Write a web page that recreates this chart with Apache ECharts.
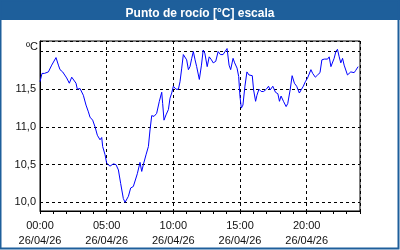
<!DOCTYPE html>
<html><head><meta charset="utf-8">
<script src="https://cdn.jsdelivr.net/npm/echarts@6/dist/echarts.min.js"></script>
<style>html,body{margin:0;padding:0;background:#fff}#c{width:400px;height:250px}</style>
</head><body><div id="c"></div>
<script>
const titleText = 'Punto de rocío [°C] escala';
const unitLabel = 'ºC';
const dateLabel = '26/04/26';
const hours = [0,0.15,0.33,0.63,0.88,1.2,1.38,1.5,1.7,2.0,2.2,2.38,2.5,2.7,2.8,3.0,3.13,3.25,3.45,3.63,3.75,3.95,4.13,4.3,4.5,4.63,4.7,4.88,5.0,5.25,5.5,5.7,5.88,6.05,6.25,6.38,6.5,6.63,6.8,7.0,7.13,7.3,7.5,7.63,7.75,7.95,8.13,8.25,8.38,8.55,8.75,8.95,9.13,9.2,9.3,9.45,9.63,9.75,9.88,10.0,10.2,10.38,10.5,10.63,10.75,10.88,11.0,11.13,11.25,11.38,11.5,11.63,11.75,11.95,
12.11,12.24,12.36,12.54,12.69,12.86,12.99,13.18,13.36,13.53,13.73,13.86,14.03,14.18,14.30,14.48,14.60,14.78,14.90,15.0,15.10,15.22,15.37,15.52,15.67,15.92,16.02,16.17,16.27,16.42,16.59,16.77,16.97,17.14,17.26,17.46,17.66,17.84,17.96,18.08,18.26,18.46,18.58,18.76,18.91,19.08,19.25,19.45,19.58,19.75,19.90,20.07,20.20,20.32,20.45,20.65,20.82,21.0,21.14,21.32,21.57,21.69,21.82,21.94,22.06,22.19,22.31,22.44,22.56,22.69,22.81,22.94,23.06,23.18,23.31,23.56,23.68,23.86];
const dewPoint = [11.60,11.71,11.71,11.73,11.82,11.92,11.82,11.76,11.73,11.65,11.58,11.66,11.66,11.58,11.50,11.51,11.49,11.42,11.29,11.20,11.13,11.09,11.00,10.89,10.83,10.86,10.74,10.63,10.52,10.48,10.51,10.50,10.43,10.25,10.05,10.00,10.00,10.08,10.19,10.21,10.23,10.38,10.53,10.41,10.50,10.63,10.74,10.96,11.15,11.14,11.18,11.34,11.46,11.31,11.09,11.16,11.23,11.38,11.45,11.54,11.50,11.50,11.60,11.78,11.96,11.96,11.89,11.76,11.80,11.91,12.00,11.89,11.80,11.63,
11.82,12.02,11.98,11.80,11.93,11.89,11.85,11.87,12.00,11.96,11.96,11.98,12.04,11.82,11.76,11.91,11.85,11.78,11.67,11.40,11.25,11.29,11.54,11.73,11.69,11.68,11.49,11.34,11.42,11.50,11.47,11.47,11.50,11.54,11.49,11.54,11.46,11.44,11.34,11.41,11.34,11.27,11.31,11.49,11.68,11.58,11.54,11.45,11.49,11.54,11.60,11.65,11.67,11.76,11.71,11.66,11.69,11.72,11.89,11.90,11.90,11.93,11.80,11.82,11.91,12.00,12.03,11.93,11.85,11.91,11.82,11.80,11.69,11.71,11.73,11.72,11.75,11.80];
const xLabels = ['00:00','05:00','10:00','15:00','20:00'];

const pts = hours.map((h,i)=>[h, dewPoint[i]]);
const font = 'Liberation Sans';
const chart = echarts.init(document.getElementById('c'), null, {renderer:'canvas'});
chart.setOption({
  animation:false,
  backgroundColor:'#fff',
  title:{text:titleText,left:'center',top:3,textStyle:{color:'#fff',fontSize:12,fontWeight:'bold',fontFamily:font}},
  graphic:[
    {type:'rect',z:-1,shape:{x:0,y:0,width:400,height:20},style:{fill:'#1e5f9b'}},
    {type:'rect',z:-1,shape:{x:0.5,y:0.5,width:398,height:248},style:{fill:'none',stroke:'#1e5f9b',lineWidth:2}},
    {type:'text',left:26,top:41,style:{text:unitLabel,font:'11px '+font,fill:'#111'}}
  ],
  grid:{left:40,right:40,top:41,bottom:39,show:true,borderColor:'#000',borderWidth:1,backgroundColor:'transparent'},
  xAxis:[
    {type:'value',min:0,max:24,interval:1,
     axisLine:{lineStyle:{color:'#000'}},
     axisTick:{show:true,length:3,lineStyle:{color:'#000'}},
     splitLine:{show:false},
     axisLabel:{margin:7,color:'#111',fontSize:11,fontFamily:font,
       rich:{a:{fontSize:11,fontFamily:font,color:'#111',lineHeight:15}},
       formatter:v=>{const k=Math.round(v); if(k%5!==0||k>=24) return ''; return '{a|'+xLabels[k/5]+'}\n{a|'+dateLabel+'}';}}},
    {type:'value',min:0,max:24,interval:5,position:'bottom',
     axisLine:{show:false},axisTick:{show:false},axisLabel:{show:false},
     splitLine:{show:true,lineStyle:{color:'#000',type:[3,3],width:1}}}
  ],
  yAxis:{type:'value',min:9.885,max:12.14,splitNumber:5,
    axisLine:{show:true,lineStyle:{color:'#000'}},axisTick:{show:false},
    splitLine:{show:true,lineStyle:{color:'#000',type:[3,3],width:1}},
    axisLabel:{margin:4,color:'#111',fontSize:11,fontFamily:font,
      formatter:v=>{const r=Math.round(v*2)/2; if(Math.abs(v-r)>1e-6||r>=12) return ''; return r.toFixed(1).replace('.',',');}}},
  series:[{type:'line',xAxisIndex:0,data:pts,showSymbol:false,symbol:'none',lineStyle:{color:'#0000ff',width:1}}]
});
</script></body></html>
